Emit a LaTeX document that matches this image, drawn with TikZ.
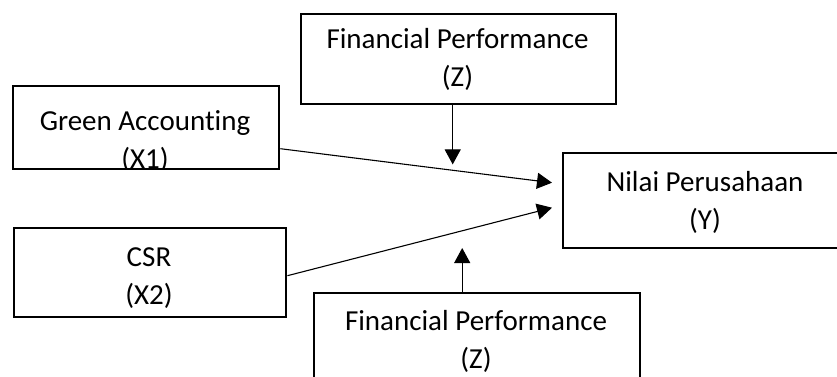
\documentclass[tikz,border=0pt]{standalone}
\usepackage{fontspec}
\setmainfont{Carlito}[Ligatures=NoCommon]
\usepackage{tikz}
\usetikzlibrary{arrows.meta, calc, positioning}

\tikzset{
  box/.style={draw, line width=2.4pt, rectangle, inner sep=0pt, anchor=north west},
  lbl/.style={align=center, font=\fontsize{29}{38}\selectfont, inner sep=0pt, anchor=base},
  link/.style={line width=1.1pt, -{Triangle[length=15pt, width=16pt]}}
}

\begin{document}
\begin{tikzpicture}[x=1pt, y=-1pt]
  \useasboundingbox (0, 0) rectangle (837, 376);

  % boxes
  \node[box, minimum width=315pt, minimum height=90pt] (fpTop) at (300, 13) {};
  \node[box, minimum width=266pt, minimum height=83pt] (green) at (12, 85) {};
  \node[box, minimum width=272pt, minimum height=89pt] (csr) at (13, 227) {};
  \node[box, minimum width=286pt, minimum height=95pt] (nilai) at (562, 152) {};
  \node[box, minimum width=326pt, minimum height=110pt] (fpBot) at (313, 292) {};

  % texts (anchored on the baseline of the last line)
  \node[lbl] (fpTopTxt) at (457.5, 86) {Financial Performance\\(Z)};
  \begin{scope}
    \clip (green.north west) rectangle ($(green.south east)+(0, -1.2)$);
    \node[lbl] (greenTxt) at (145, 168.5) {Green Accounting\\(X1)};
  \end{scope}
  \node[lbl] (csrTxt) at (149, 304) {CSR\\(X2)};
  \node[lbl] (nilaiTxt) at (705, 229) {Nilai Perusahaan\\(Y)};
  \node[lbl] (fpBotTxt) at (476, 368) {Financial Performance\\(Z)};

  % arrows
  \coordinate (tipA) at ($(nilai.west)+(-10, -18)$);
  \coordinate (tipB) at ($(nilai.west)+(-10, 7)$);
  \coordinate (tipTop) at ($(fpTop.south)+(-6, 59)$);
  \coordinate (tipBot) at ($(fpBot.north)+(-15, -44)$);
  \draw[link] ($(green.east)+(0, 21)$) -- (tipA);
  \draw[link] ($(csr.east)+(0, 3)$) -- (tipB);
  \draw[link] ($(fpTop.south)+(-6, 0)$) -- (tipTop);
  \draw[link] ($(fpBot.north)+(-15, 0)$) -- (tipBot);
\end{tikzpicture}
\end{document}
